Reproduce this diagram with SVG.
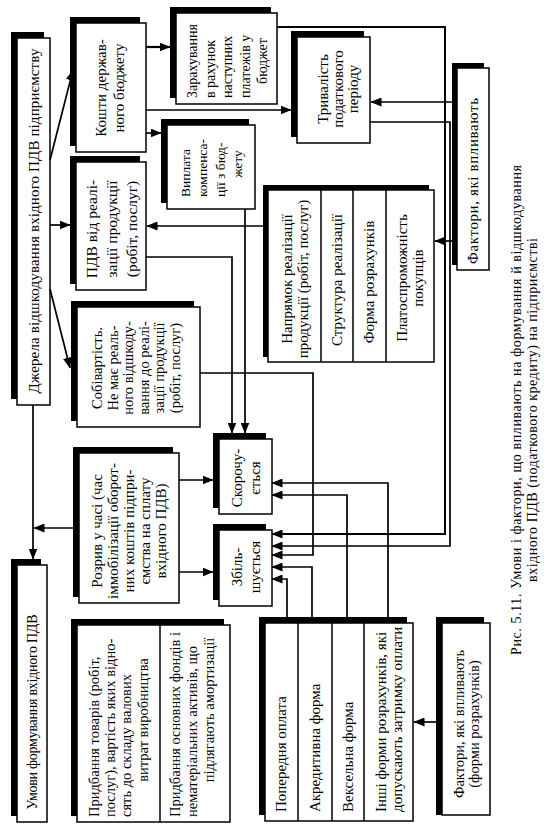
<svg xmlns="http://www.w3.org/2000/svg" width="548" height="827" viewBox="0 0 548 827">
<defs>
<style>
.sh{fill:#000}
.bx{fill:#fff;stroke:#000;stroke-width:1.5}
.dv{stroke:#000;stroke-width:1.5}
.t{font-family:"Liberation Serif","Times New Roman",serif;font-size:15px;fill:#000;dominant-baseline:central}
.m{text-anchor:middle}
.c path{fill:none;stroke:#000;stroke-width:1.7;marker-end:url(#ar)}
.c path.n{marker-end:none}
</style>
<marker id="ar" markerWidth="11" markerHeight="9" refX="10.5" refY="4.5" orient="auto" markerUnits="userSpaceOnUse"><path d="M0,0 L11,4.5 L0,9 z" fill="#000"/></marker>
</defs>
<rect width="548" height="827" fill="#fff"/>

<g id="sources">
<rect class="sh" x="11" y="32" width="33" height="367"/>
<rect class="bx" x="17" y="38" width="33" height="367"/>
<text class="t m" transform="translate(34,221) rotate(-90)" textLength="345" lengthAdjust="spacing">Джерела відшкодування вхідного ПДВ підприємству</text>
</g>

<g id="budget-funds">
<rect class="sh" x="70" y="17" width="70" height="129"/>
<rect class="bx" x="76" y="23" width="70" height="129"/>
<text class="t m" transform="translate(110,88) rotate(-90)"><tspan x="0" y="-9">Кошти держав-</tspan><tspan x="0" y="9">ного бюджету</tspan></text>
</g>

<g id="offset-payments">
<rect class="sh" x="170" y="7" width="101" height="91"/>
<rect class="bx" x="176" y="13" width="101" height="91"/>
<text class="t" style="font-size:14px" transform="translate(227,98) rotate(-90)"><tspan x="0" y="-35">Зарахування</tspan><tspan x="0" y="-17.5">в рахунок</tspan><tspan x="0" y="0">наступних</tspan><tspan x="0" y="17.5">платежів у</tspan><tspan x="37" y="35" text-anchor="middle">бюджет</tspan></text>
</g>

<g id="tax-period">
<rect class="sh" x="291" y="31" width="73" height="106"/>
<rect class="bx" x="297" y="37" width="73" height="106"/>
<text class="t m" transform="translate(338,89) rotate(-90)"><tspan x="0" y="-15">Тривалість</tspan><tspan x="0" y="0">податкового</tspan><tspan x="0" y="15">періоду</tspan></text>
</g>

<g id="factors">
<rect class="sh" x="452" y="63" width="32" height="202"/>
<rect class="bx" x="457" y="68" width="32" height="202"/>
<text class="t m" transform="translate(473,181) rotate(-90)" textLength="166" lengthAdjust="spacing">Фактори, які впливають</text>
</g>

<g id="compensation">
<rect class="sh" x="161" y="119" width="88" height="84"/>
<rect class="bx" x="167" y="125" width="88" height="84"/>
<text class="t" style="font-size:13.5px" transform="translate(211,197) rotate(-90)"><tspan x="0" y="-26">Виплата</tspan><tspan x="0" y="-8.7">компенса-</tspan><tspan x="0" y="8.7">ції з бюд-</tspan><tspan x="33" y="26" text-anchor="middle">жету</tspan></text>
</g>

<g id="vat-sales">
<rect class="sh" x="70" y="156" width="70" height="128"/>
<rect class="bx" x="76" y="162" width="70" height="128"/>
<text class="t m" style="font-size:15.5px" transform="translate(111,229) rotate(-90)"><tspan x="0" y="-20">ПДВ від реалі-</tspan><tspan x="0" y="0">зації продукції</tspan><tspan x="0" y="20">(робіт, послуг)</tspan></text>
</g>

<g id="cost">
<rect class="sh" x="71" y="301" width="123" height="120"/>
<rect class="bx" x="77" y="307" width="123" height="120"/>
<text class="t m" style="font-size:14.5px" transform="translate(136,368) rotate(-90)"><tspan x="0" y="-39">Собівартість.</tspan><tspan x="0" y="-23.4">Не має реаль-</tspan><tspan x="0" y="-7.8">ного відшкоду-</tspan><tspan x="0" y="7.8">вання до реалі-</tspan><tspan x="0" y="23.4">зації продукції</tspan><tspan x="0" y="39">(робіт, послуг)</tspan></text>
</g>

<g id="sales-factors">
<rect class="sh" x="263" y="185" width="166" height="172"/>
<rect class="bx" x="268" y="190" width="166" height="172"/>
<line class="dv" x1="321" y1="190" x2="321" y2="362"/>
<line class="dv" x1="353" y1="190" x2="353" y2="362"/>
<line class="dv" x1="386" y1="190" x2="386" y2="362"/>
<text class="t m" transform="translate(295,279) rotate(-90)"><tspan x="0" y="-8">Напрямок реалізації</tspan><tspan x="0" y="8">продукції (робіт, послуг)</tspan></text>
<text class="t m" transform="translate(337,280) rotate(-90)">Структура реалізації</text>
<text class="t m" transform="translate(369,282) rotate(-90)">Форма розрахунків</text>
<text class="t m" transform="translate(410,278) rotate(-90)"><tspan x="0" y="-8">Платоспроможність</tspan><tspan x="0" y="8">покупців</tspan></text>
</g>

<g id="time-gap">
<rect class="sh" x="73" y="447" width="100" height="150"/>
<rect class="bx" x="79" y="453" width="100" height="150"/>
<text class="t m" transform="translate(129,531) rotate(-90)"><tspan x="0" y="-31.6">Розрив у часі (час</tspan><tspan x="0" y="-15.8">іммобілізації оборот-</tspan><tspan x="0" y="0">них коштів підпри-</tspan><tspan x="0" y="15.8">ємства на сплату</tspan><tspan x="0" y="31.6">вхідного ПДВ)</tspan></text>
</g>

<g id="decreases">
<rect class="sh" x="213" y="433" width="53" height="75"/>
<rect class="bx" x="219" y="439" width="53" height="75"/>
<text class="t m" transform="translate(246,478) rotate(-90)"><tspan x="0" y="-9">Скорочу-</tspan><tspan x="0" y="9">ється</tspan></text>
</g>

<g id="increases">
<rect class="sh" x="213" y="524" width="53" height="76"/>
<rect class="bx" x="219" y="530" width="53" height="76"/>
<text class="t m" transform="translate(246,567) rotate(-90)"><tspan x="0" y="-9">Збіль-</tspan><tspan x="0" y="9">шується</tspan></text>
</g>

<g id="conditions">
<rect class="sh" x="11" y="559" width="30" height="257"/>
<rect class="bx" x="17" y="565" width="30" height="257"/>
<text class="t m" style="font-size:14px" transform="translate(32,712) rotate(-90)" textLength="195" lengthAdjust="spacing">Умови формування вхідного ПДВ</text>
</g>

<g id="purchases">
<rect class="sh" x="71" y="619" width="153" height="197"/>
<rect class="bx" x="77" y="625" width="153" height="197"/>
<line class="dv" x1="160" y1="625" x2="160" y2="822"/>
<text class="t" style="font-size:14.5px" transform="translate(118,817) rotate(-90)"><tspan x="0" y="-24.5">Придбання товарів (робіт,</tspan><tspan x="0" y="-8.2">послуг), вартість яких відно-</tspan><tspan x="0" y="8.2">сять до складу валових</tspan><tspan x="97" y="24.5" text-anchor="middle">витрат виробництва</tspan></text>
<text class="t" style="font-size:14.5px" transform="translate(192,817) rotate(-90)"><tspan x="0" y="-17">Придбання основних фондів і</tspan><tspan x="0" y="0">нематеріальних активів, що</tspan><tspan x="107" y="17" text-anchor="middle">підлягають амортизації</tspan></text>
</g>

<g id="payment-forms">
<rect class="sh" x="259" y="617" width="148" height="198"/>
<rect class="bx" x="265" y="623" width="148" height="198"/>
<line class="dv" x1="298" y1="623" x2="298" y2="821"/>
<line class="dv" x1="332" y1="623" x2="332" y2="821"/>
<line class="dv" x1="364" y1="623" x2="364" y2="821"/>
<text class="t" transform="translate(281,812) rotate(-90)">Попередня оплата</text>
<text class="t" transform="translate(315,812) rotate(-90)">Акредитивна форма</text>
<text class="t" transform="translate(348,812) rotate(-90)">Вексельна форма</text>
<text class="t" transform="translate(389,812) rotate(-90)"><tspan x="0" y="-8">Інші форми розрахунків, які</tspan><tspan x="0" y="8">допускають затримку оплати</tspan></text>
</g>

<g id="factors-payment">
<rect class="sh" x="436" y="617" width="48" height="198"/>
<rect class="bx" x="442" y="623" width="48" height="192"/>
<text class="t m" style="font-size:14.5px" transform="translate(466,724) rotate(-90)"><tspan x="0" y="-7.5">Фактори, які впливають</tspan><tspan x="0" y="7.5">(форми розрахунків)</tspan></text>
</g>

<g id="connectors" class="c">
<path d="M50,160 L73,70"/>
<path d="M50,225 L70,225"/>
<path d="M50,289 L70,368"/>
<path d="M33,405 L33,559"/>
<path d="M73,528 L34,528"/>
<path d="M146,47 L170,47" style="stroke-width:2.2"/>
<path d="M146,110 L291,110"/>
<path d="M146,133 L161,133"/>
<path d="M277,27 L445,27 L445,534 L272,534" style="stroke-width:2"/>
<path d="M370,122 L450,122 L450,546 L272,546"/>
<path d="M452,102 L371,102"/>
<path d="M452,241 L435,241"/>
<path d="M263,226 L147,226"/>
<path d="M146,257 L232,257 L232,433"/>
<path d="M245,209 L245,433"/>
<path d="M200,373 L313,373 L313,555 L272,555"/>
<path d="M179,480 L213,480"/>
<path d="M179,572 L213,572"/>
<path d="M388,617 L388,483 L272,483"/>
<path d="M347,617 L347,495 L272,495"/>
<path d="M312,617 L312,567 L272,567"/>
<path d="M287,617 L287,579 L272,579"/>
<path d="M436,722 L414,722"/>
</g>

<g id="caption">
<text class="t m" style="font-size:14px" transform="translate(516,410) rotate(-90)" textLength="490" lengthAdjust="spacing">Рис. 5.11. Умови і фактори, що впливають на формування й відшкодування</text>
<text class="t m" style="font-size:14px" transform="translate(532,410) rotate(-90)" textLength="344" lengthAdjust="spacing">вхідного ПДВ (податкового кредиту) на підприємстві</text>
</g>
</svg>
